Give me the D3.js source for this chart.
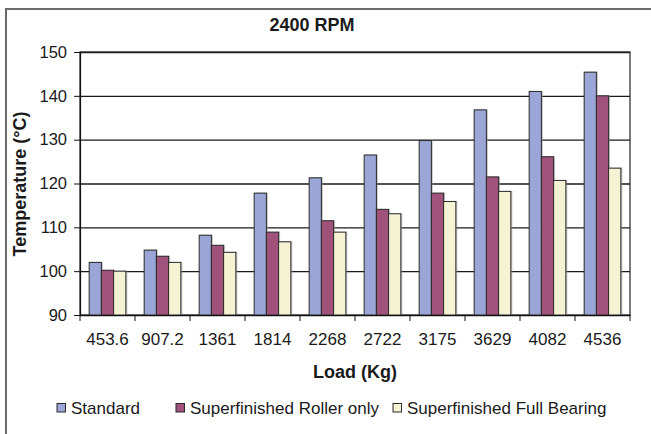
<!DOCTYPE html>
<html>
<head>
<meta charset="utf-8">
<script src="https://cdn.jsdelivr.net/npm/d3@7/dist/d3.min.js"></script>
<style>
  html, body { margin: 0; padding: 0; background: #fff; }
  svg { display: block; font-family: "Liberation Sans", Arial, sans-serif; }
</style>
</head>
<body>
<svg id="chart" width="651" height="434"></svg>
<script>
// Bearing temperature at 2400 RPM against load, three bearing finishes
const categories = ["453.6", "907.2", "1361", "1814", "2268", "2722", "3175", "3629", "4082", "4536"];
const seriesNames = ["Standard", "Superfinished Roller only", "Superfinished Full Bearing"];
const standard    = [102.0, 104.8, 108.2, 117.8, 121.3, 126.5, 129.8, 136.8, 141.0, 145.4];
const rollerOnly  = [100.2, 103.4, 105.9, 108.9, 111.5, 114.1, 117.8, 121.5, 126.1, 140.0];
const fullBearing = [100.0, 102.0, 104.3, 106.7, 108.9, 113.1, 115.9, 118.2, 120.7, 123.5];
const yTicks = [90, 100, 110, 120, 130, 140, 150];

const seriesValues = [standard, rollerOnly, fullBearing];
const colors = ["#9ba6d6", "#a1527a", "#f5f3d3"];
const textColor = "#1a1a1a";

const svg = d3.select("#chart");
const plot = { left: 80, right: 630, top: 52, bottom: 315 };

// outer chart frame
svg.append("rect")
  .attr("x", 6).attr("y", 9).attr("width", 700).attr("height", 500)
  .attr("fill", "#fff").attr("stroke", "#6b6b6b").attr("stroke-width", 2);

const x = d3.scaleBand().domain(categories).range([plot.left, plot.right]).padding(0);
const barW = x.bandwidth() / 4.5;
const xs = d3.scaleBand().domain(seriesNames)
  .range([0.75 * barW, 3.75 * barW]).padding(0);
const y = d3.scaleLinear().domain([90, 150]).range([plot.bottom, plot.top]);

// gridlines
svg.append("g")
  .attr("transform", `translate(${plot.left},0)`)
  .call(d3.axisLeft(y).tickValues(yTicks).tickSize(-(plot.right - plot.left)).tickFormat(""))
  .call(g => g.select(".domain").remove())
  .call(g => g.selectAll("line").attr("stroke", "#1a1a1a").attr("stroke-width", 1.3));

// plot frame
svg.append("rect")
  .attr("x", plot.left).attr("y", plot.top)
  .attr("width", plot.right - plot.left).attr("height", plot.bottom - plot.top)
  .attr("fill", "none").attr("stroke", "#222").attr("stroke-width", 1.2);

// bars
const rows = categories.map((c, i) => ({ cat: c, vals: seriesNames.map((s, k) => ({ s, k, v: seriesValues[k][i] })) }));
const groups = svg.append("g").selectAll("g").data(rows).join("g")
  .attr("transform", d => `translate(${x(d.cat)},0)`);

groups.selectAll("rect.shadow").data(d => d.vals).join("rect")
  .attr("class", "shadow")
  .attr("x", d => xs(d.s) + 1.5)
  .attr("y", d => y(d.v) - 0.5)
  .attr("width", xs.bandwidth())
  .attr("height", d => plot.bottom - y(d.v))
  .attr("fill", "#9a9a9a").attr("opacity", 0.55);

groups.selectAll("rect.bar").data(d => d.vals).join("rect")
  .attr("class", "bar")
  .attr("x", d => xs(d.s))
  .attr("y", d => y(d.v))
  .attr("width", xs.bandwidth())
  .attr("height", d => plot.bottom - y(d.v))
  .attr("fill", d => colors[d.k])
  .attr("stroke", "#2a2a2a").attr("stroke-width", 1);

// y axis
const yAxis = svg.append("g")
  .attr("transform", `translate(${plot.left},0)`)
  .call(d3.axisLeft(y).tickValues(yTicks).tickSize(6).tickPadding(7));
yAxis.select(".domain").attr("stroke", "#111").attr("stroke-width", 1.2);
yAxis.selectAll(".tick line").attr("stroke", "#111");
yAxis.selectAll("text")
  .attr("font-size", 16.5).attr("fill", textColor)
  .attr("font-family", "Liberation Sans, Arial, sans-serif");

// x axis: baseline, boundary ticks, labels
const xAxis = svg.append("g")
  .attr("transform", `translate(0,${plot.bottom})`)
  .call(d3.axisBottom(x).tickSize(0).tickPadding(18));
xAxis.select(".domain").attr("stroke", "#111").attr("stroke-width", 1.2);
xAxis.selectAll(".tick text")
  .attr("font-size", 17).attr("fill", textColor)
  .attr("font-family", "Liberation Sans, Arial, sans-serif");
const bounds = categories.map(c => x(c)).concat([plot.right]);
xAxis.selectAll("line.bound").data(bounds).join("line")
  .attr("class", "bound")
  .attr("x1", d => d).attr("x2", d => d)
  .attr("y1", 0).attr("y2", 6)
  .attr("stroke", "#111").attr("stroke-width", 1);

// titles
function title(tx, ty, str, rotate) {
  return svg.append("text")
    .attr("transform", rotate ? `translate(${tx},${ty}) rotate(-90)` : `translate(${tx},${ty})`)
    .attr("text-anchor", "middle")
    .attr("font-size", 18).attr("font-weight", "bold")
    .attr("fill", textColor)
    .text(str);
}
title(312, 30.5, "2400 RPM");
title(355, 378, "Load (Kg)");
title(26, 184, "Temperature (°C)", true);

// legend
const legendX = [57, 176, 393];
const legend = svg.append("g").selectAll("g").data(seriesNames).join("g")
  .attr("transform", (d, i) => `translate(${legendX[i]},403.5)`);
legend.append("rect")
  .attr("width", 8.5).attr("height", 8.5)
  .attr("fill", (d, i) => colors[i])
  .attr("stroke", "#2a2a2a").attr("stroke-width", 1);
legend.append("text")
  .attr("x", 14).attr("y", 10)
  .attr("font-size", 17).attr("fill", textColor)
  .text(d => d);
</script>
</body>
</html>
